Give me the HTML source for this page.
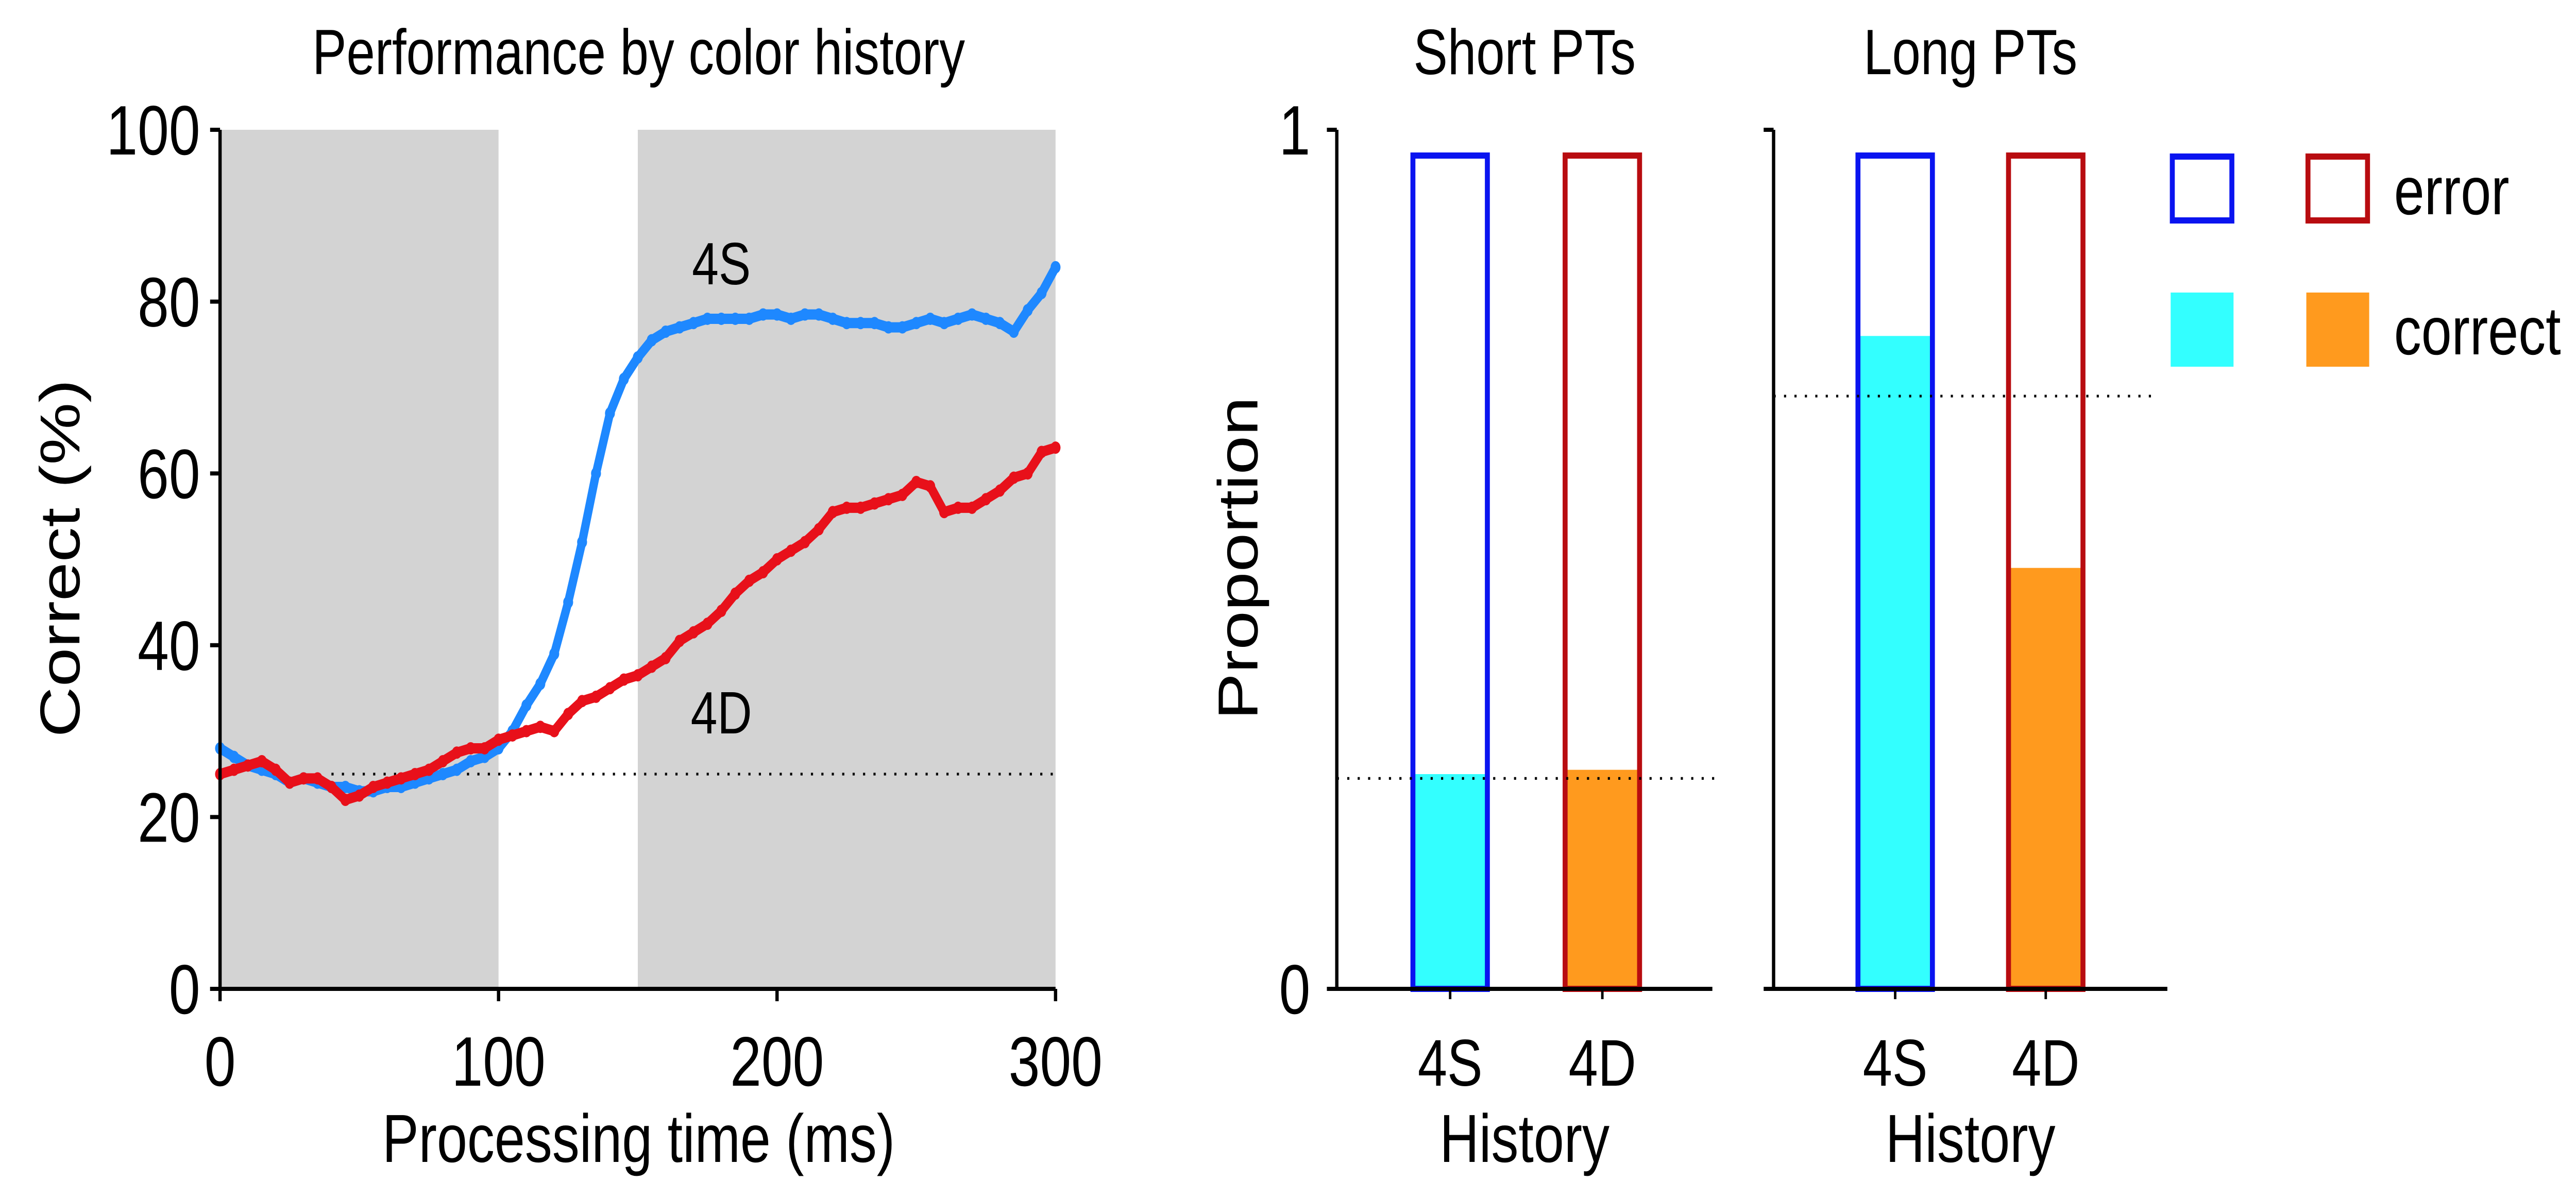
<!DOCTYPE html>
<html><head><meta charset="utf-8"><style>
html,body{margin:0;padding:0;background:#fff;overflow:hidden;width:100%;height:100%}
svg{display:block;position:fixed;left:0;top:0;width:100vw;height:100vh}
text{font-family:"Liberation Sans Narrow","Liberation Sans",sans-serif;fill:#000}
</style></head><body>
<svg id="fig" viewBox="0 0 1557 582" preserveAspectRatio="none" xmlns="http://www.w3.org/2000/svg">
<g id="left"></g>
<g id="right"></g>
</svg>
<script>
// ---- Line chart data ----
const timeMs = [0,5,10,15,20,25,30,35,40,45,50,55,60,65,70,75,80,85,90,95,100,105,110,115,120,125,130,135,140,145,150,155,160,165,170,175,180,185,190,195,200,205,210,215,220,225,230,235,240,245,250,255,260,265,270,275,280,285,290,295,300];
const series4S = [28,27,26,25.5,25,24,24.5,24,23.5,23.5,23,23,23.5,23.5,24,24.5,25,25.5,26.5,27,28,30,33,35.5,39,45,52,60,67,71,73.5,75.5,76.5,77,77.5,78,78,78,78,78.5,78.5,78,78.5,78.5,78,77.5,77.5,77.5,77,77,77.5,78,77.5,78,78.5,78,77.5,76.5,79,81,84];
const series4D = [25,25.5,26,26.5,25.5,24,24.5,24.5,23.5,22,22.5,23.5,24,24.5,25,25.5,26.5,27.5,28,28,29,29.5,30,30.5,30,32,33.5,34,35,36,36.5,37.5,38.5,40.5,41.5,42.5,44,46,47.5,48.5,50,51,52,53.5,55.5,56,56,56.5,57,57.5,59,58.5,55.5,56,56,57,58,59.5,60,62.5,63];
const yTicks = [0,20,40,60,80,100];
const xTicks = [0,100,200,300];
const shadedRanges = [[0,100],[150,300]];
const chanceLevel = 25;
// ---- Bar chart data ----
const panels = ["Short PTs","Long PTs"];
const histories = ["4S","4D"];
const errorTop = [[0.97,0.97],[0.97,0.97]];
const correctProp = [[0.25,0.255],[0.76,0.49]];
const chanceProp = [0.245,0.69];

const NS="http://www.w3.org/2000/svg";
function mk(parent,tag,attrs,txt){const e=document.createElementNS(NS,tag);for(const k in attrs)e.setAttribute(k,attrs[k]);if(txt!==undefined)e.textContent=txt;parent.appendChild(e);return e;}

// Left chart
const L=document.getElementById('left');
const X=t=>133+(t/300)*505, Y=v=>480-(v/100)*417;
shadedRanges.forEach((r,i)=>{const e=mk(L,'rect',{x:X(r[0]),y:Y(100),width:X(r[1])-X(r[0]),height:Y(0)-Y(100),fill:'#d3d3d3'});

});
let d=mk(L,'line',{x1:X(40),x2:X(300),y1:Y(chanceLevel),y2:Y(chanceLevel),stroke:'#000','stroke-width':1.3,'stroke-dasharray':'1.3 5'});


function drawSeries(vals,color,name){
 const g=mk(L,'g',{});
 
 
 mk(g,'polyline',{points:timeMs.map((t,i)=>X(t)+','+Y(vals[i])).join(' '),fill:'none',stroke:color,'stroke-width':5,'stroke-linejoin':'round','stroke-linecap':'round'});
 timeMs.forEach((t,i)=>{const c=mk(g,'circle',{cx:X(t),cy:Y(vals[i]),r:3,fill:color});
 
 });
}
drawSeries(series4S,'#1e88ff','series-4s');
drawSeries(series4D,'#e8101a','series-4d');
mk(L,'line',{x1:X(0),x2:X(0),y1:Y(100),y2:Y(0),stroke:'#000','stroke-width':2});
mk(L,'line',{x1:X(0)-6,x2:X(300),y1:Y(0),y2:Y(0),stroke:'#000','stroke-width':2});
yTicks.forEach(v=>{mk(L,'line',{x1:X(0)-6,x2:X(0),y1:Y(v),y2:Y(v),stroke:'#000','stroke-width':2});
 const t=mk(L,'text',{x:X(0)-12,y:Y(v)+12,'font-size':34,'text-anchor':'end'},v);
 
 });
xTicks.forEach(v=>{mk(L,'line',{x1:X(v),x2:X(v),y1:Y(0),y2:Y(0)+6,stroke:'#000','stroke-width':2});
 const t=mk(L,'text',{x:X(v),y:527,'font-size':34,'text-anchor':'middle'},v);
 
 });
let t;
t=mk(L,'text',{x:386,y:36,'font-size':31,'text-anchor':'middle'},'Performance by color history');

t=mk(L,'text',{x:386,y:564,'font-size':33,'text-anchor':'middle'},'Processing time (ms)');

t=mk(L,'text',{x:0,y:0,'font-size':34,'text-anchor':'middle',transform:'translate(48,271) rotate(-90)'},'Correct (%)');

t=mk(L,'text',{x:436,y:138,'font-size':29,'text-anchor':'middle'},'4S');

t=mk(L,'text',{x:436,y:356,'font-size':29,'text-anchor':'middle'},'4D');


// Right bar panels
const R=document.getElementById('right');
const axisX=[808,1072], axisEnd=[1035,1310], barX=[[854,946],[1123,1214]], barW=45;
const PY=v=>480-v*417;
const strokeCol=['#0a14f0','#b80c10'], fillCol=['#33ffff','#ff9a1e'];
panels.forEach((p,pi)=>{
 const g=mk(R,'g',{});
 
 
 histories.forEach((h,hi)=>{
  const x=barX[pi][hi];
  const c=mk(g,'rect',{x:x,y:PY(correctProp[pi][hi]),width:barW,height:PY(0)-PY(correctProp[pi][hi]),fill:fillCol[hi]});
  
  
  const e=mk(g,'rect',{x:x,y:PY(errorTop[pi][hi]),width:barW,height:PY(0)-PY(errorTop[pi][hi]),fill:'none',stroke:strokeCol[hi],'stroke-width':3});
  
  
  mk(g,'line',{x1:x+barW/2,x2:x+barW/2,y1:PY(0),y2:PY(0)+5,stroke:'#000','stroke-width':1.5});
  const l=mk(g,'text',{x:x+barW/2,y:527,'font-size':32,'text-anchor':'middle'},h);
  
  
 });
 const dl=mk(g,'line',{x1:axisX[pi],x2:axisEnd[pi]+(pi?-5:2),y1:PY(chanceProp[pi]),y2:PY(chanceProp[pi]),stroke:'#000','stroke-width':1.3,'stroke-dasharray':'1.3 5'});
 
 
 mk(g,'line',{x1:axisX[pi],x2:axisX[pi],y1:PY(1),y2:PY(0),stroke:'#000','stroke-width':2});
 mk(g,'line',{x1:axisX[pi]-6,x2:axisEnd[pi],y1:PY(0),y2:PY(0),stroke:'#000','stroke-width':2});
 mk(g,'line',{x1:axisX[pi]-6,x2:axisX[pi],y1:PY(1),y2:PY(1),stroke:'#000','stroke-width':2});
 const tt=mk(g,'text',{x:(axisX[pi]+axisEnd[pi])/2,y:36,'font-size':31,'text-anchor':'middle'},p);
 
 
 const xt=mk(g,'text',{x:(axisX[pi]+axisEnd[pi])/2,y:564,'font-size':33,'text-anchor':'middle'},'History');
 
 
});
['1','0'].forEach((s,i)=>{const tk=mk(R,'text',{x:792,y:(i?PY(0):PY(1))+12,'font-size':34,'text-anchor':'end'},s);
 
 });
t=mk(R,'text',{x:0,y:0,'font-size':34,'text-anchor':'middle',transform:'translate(760,271) rotate(-90)'},'Proportion');

// Legend
const lg=mk(R,'g',{});


mk(lg,'rect',{x:1313,y:76,width:36,height:31,fill:'none',stroke:strokeCol[0],'stroke-width':3});
mk(lg,'rect',{x:1395,y:76,width:36,height:31,fill:'none',stroke:strokeCol[1],'stroke-width':3});
mk(lg,'rect',{x:1312,y:142,width:38,height:36,fill:fillCol[0]});
mk(lg,'rect',{x:1394,y:142,width:38,height:36,fill:fillCol[1]});
t=mk(lg,'text',{x:1447,y:104,'font-size':33},'error');

t=mk(lg,'text',{x:1447,y:172,'font-size':33},'correct');

</script>
</body></html>
